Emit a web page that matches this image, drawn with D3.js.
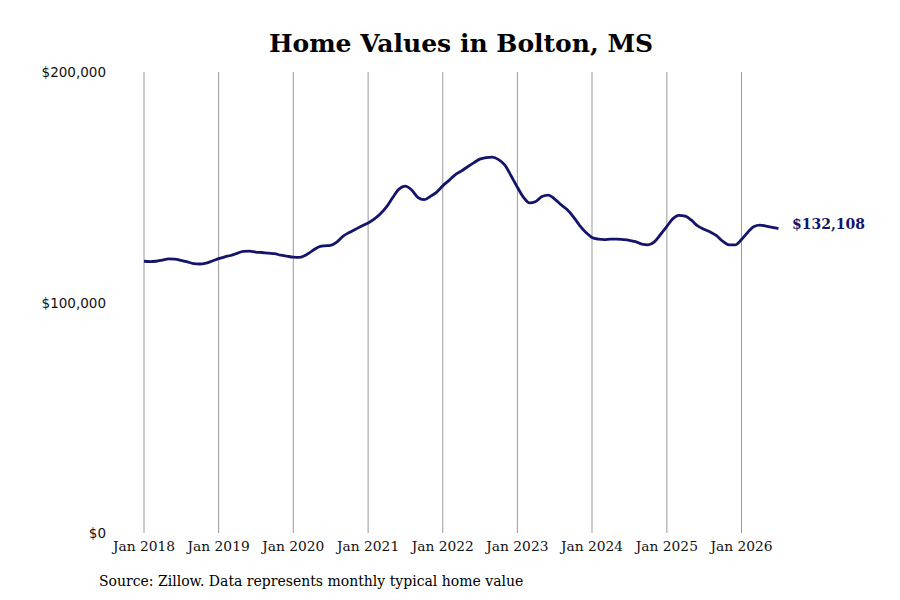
<!DOCTYPE html>
<html>
<head>
<meta charset="utf-8">
<script src="https://cdn.jsdelivr.net/npm/d3@7"></script>
<style>
  body { margin: 0; background: #fff; }
  svg { display: block; }
</style>
</head>
<body>
<div id="chart"></div>
<script>
// ---- data ----
const startMonth = "2018-01";
const values = [
  117.9, 117.7, 117.9, 118.4, 118.9, 118.8, 118.3, 117.6, 116.9, 116.7, 117.1, 118.0,
  119.0, 119.8, 120.4, 121.3, 122.2, 122.3, 121.9, 121.7, 121.4, 121.2, 120.5, 120.1,
  119.7, 119.6, 120.5, 122.3, 124.0, 124.6, 124.8, 126.2, 128.8, 130.4, 131.8, 133.2,
  134.5, 136.3, 138.4, 141.5, 145.5, 149.2, 150.5, 148.9, 145.6, 144.6, 146.0, 147.8,
  150.6, 153.0, 155.3, 157.0, 158.8, 160.6, 162.2, 162.9, 163.1, 162.0, 159.6, 155.0,
  150.0, 145.5, 143.2, 143.8, 146.0, 146.6, 145.0, 142.5, 140.3, 137.3, 133.5, 130.5,
  128.2, 127.5, 127.3, 127.5, 127.5, 127.3, 127.0, 126.4, 125.3, 125.0, 126.3, 129.5,
  133.0, 136.5, 137.8, 137.5, 135.7, 133.2, 131.8, 130.6, 129.0, 126.6, 125.0, 125.0,
  127.3, 130.5, 132.9, 133.6, 133.1, 132.6, 132.108
].map(v => v * 1000);
const xTickLabels = ["Jan 2018","Jan 2019","Jan 2020","Jan 2021","Jan 2022","Jan 2023","Jan 2024","Jan 2025","Jan 2026"];
const yTickValues = [0, 100000, 200000];
const title = "Home Values in Bolton, MS";
const source = "Source: Zillow. Data represents monthly typical home value";
const lastLabel = "$132,108";

// ---- build ----
const parse = d3.timeParse("%Y-%m");
const start = parse(startMonth);
const data = values.map((v, i) => ({ date: d3.timeMonth.offset(start, i), value: v }));
const xTicks = xTickLabels.map(s => d3.timeParse("%b %Y")(s));

const W = 900, H = 600;
const m = { left: 144, right: 900 - 778.5, top: 72, bottom: 600 - 533 };

const svg = d3.select("#chart").append("svg").attr("width", W).attr("height", H);

const x = d3.scaleTime()
  .domain([start, d3.timeMonth.offset(start, 102)])
  .range([m.left, W - m.right]);
const y = d3.scaleLinear().domain([0, 200000]).range([H - m.bottom, m.top]);

// vertical grid lines
svg.append("g").selectAll("line").data(xTicks).join("line")
  .attr("x1", d => x(d)).attr("x2", d => x(d))
  .attr("y1", y(200000)).attr("y2", y(0))
  .attr("stroke", "#999").attr("stroke-width", 1);

// x labels
svg.append("g").selectAll("text").data(xTicks).join("text")
  .attr("x", d => x(d)).attr("y", y(0) + 18)
  .attr("text-anchor", "middle")
  .attr("font-family", "DejaVu Serif")
  .attr("font-size", 13.8)
  .attr("fill", "#111")
  .text((d, i) => xTickLabels[i]);

// y labels
svg.append("g").selectAll("text").data(yTickValues).join("text")
  .attr("x", 106).attr("y", d => y(d) + 5)
  .attr("text-anchor", "end")
  .attr("font-family", "DejaVu Sans")
  .attr("font-size", 13.5)
  .attr("fill", "#111")
  .text(d => "$" + d3.format(",")(d));

// line
const line = d3.line().x(d => x(d.date)).y(d => y(d.value)).curve(d3.curveMonotoneX);
svg.append("path").datum(data)
  .attr("d", line)
  .attr("fill", "none")
  .attr("stroke", "#14146b")
  .attr("stroke-width", 2.8)
  .attr("stroke-linejoin", "round");

// end label
const last = data[data.length - 1];
svg.append("text")
  .attr("x", x(last.date) + 13.5).attr("y", y(last.value) + 0.5)
  .attr("font-family", "DejaVu Serif")
  .attr("font-weight", "bold")
  .attr("font-size", 14)
  .attr("fill", "#14146b")
  .text(lastLabel);

// title
svg.append("text")
  .attr("x", 461).attr("y", 52)
  .attr("text-anchor", "middle")
  .attr("font-family", "DejaVu Serif")
  .attr("font-weight", "bold")
  .attr("font-size", 25)
  .attr("fill", "#000")
  .text(title);

// source
svg.append("text")
  .attr("x", 99).attr("y", 586)
  .attr("font-family", "DejaVu Serif")
  .attr("font-size", 14)
  .attr("fill", "#000")
  .text(source);
</script>
</body>
</html>
